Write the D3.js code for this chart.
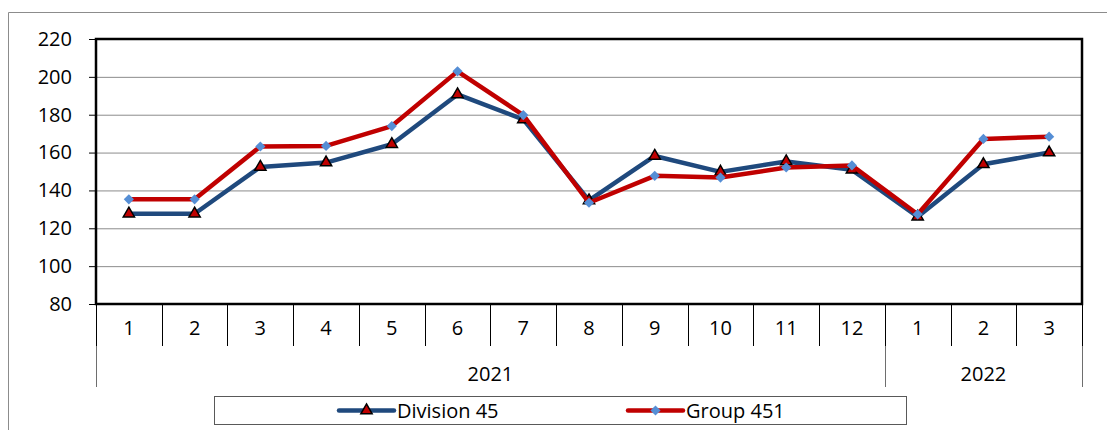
<!DOCTYPE html>
<html>
<head>
<meta charset="utf-8">
<script src="https://cdn.jsdelivr.net/npm/d3@7"></script>
<style>
  body { margin: 0; background: #fff; }
  svg { display: block; font-family: "Open Sans", sans-serif; }
</style>
</head>
<body>
<svg id="chart" width="1107" height="430"></svg>
<script>
// data
const months = ['1', '2', '3', '4', '5', '6', '7', '8', '9', '10', '11', '12', '1', '2', '3'];
const yearLabels = ['2021', '2022'];
const yearSpans = [12, 3];
const yTicks = [80, 100, 120, 140, 160, 180, 200, 220];
const division45 = [127.7, 127.7, 152.4, 154.7, 164.4, 190.7, 177.5, 134.7, 158.2, 149.8, 155.3, 150.9, 126.1, 153.8, 160.0];
const group451 = [135.3, 135.3, 163.2, 163.5, 174.0, 202.9, 179.8, 133.5, 147.7, 146.8, 152.1, 153.2, 127.4, 167.2, 168.4];

const plot = { left: 96, right: 1082, top: 39, bottom: 304 };
const tier1Bottom = 346;
const tier2Bottom = 387;
const blue = '#1F497D';
const red = '#C00000';
const diamondFill = '#558ED5';

const svg = d3.select('#chart');
const idx = months.map((m, i) => i);

const x = d3.scaleBand().domain(idx).range([plot.left, plot.right]).paddingInner(0).paddingOuter(0);
const y = d3.scaleLinear().domain([80, 220]).range([plot.bottom, plot.top]);

// outer frame (runs off the right and bottom edges)
svg.append('path')
    .attr('d', 'M8.5,430 V12.5 H1107')
    .attr('fill', 'none')
    .attr('stroke', '#8c8c8c')
    .attr('stroke-width', 1);

// grid
const gGrid = svg.append('g').attr('transform', 'translate(' + plot.left + ',0)');
gGrid.call(d3.axisLeft(y).tickValues(yTicks.slice(1, -1)).tickSize(-(plot.right - plot.left)).tickFormat(''));
gGrid.select('.domain').remove();
gGrid.selectAll('line').attr('stroke', '#8c8c8c').attr('stroke-width', 1);

// y axis
const gY = svg.append('g').attr('transform', 'translate(' + plot.left + ',0)');
gY.call(d3.axisLeft(y).tickValues(yTicks).tickSize(7).tickPadding(17));
gY.select('.domain').remove();
gY.selectAll('line').attr('stroke', '#000');
gY.selectAll('text').attr('font-size', 20).attr('fill', '#000').attr('font-family', '"Open Sans", sans-serif');

// category axis, first tier
const gX = svg.append('g').attr('transform', 'translate(0,' + plot.bottom + ')');
gX.call(d3.axisBottom(x).tickSize(0).tickPadding(17).tickFormat(i => months[i]));
gX.select('.domain').remove();
gX.selectAll('text').attr('font-size', 20).attr('fill', '#000').attr('font-family', '"Open Sans", sans-serif');

const bounds = idx.map(i => x(i)).concat([plot.right]);
svg.append('g').selectAll('line')
    .data(bounds)
    .join('line')
    .attr('x1', d => Math.round(d) + 0.5)
    .attr('x2', d => Math.round(d) + 0.5)
    .attr('y1', plot.bottom)
    .attr('y2', tier1Bottom)
    .attr('stroke', '#000')
    .attr('stroke-width', 1);

// category axis, second tier (years)
let start = 0;
const yearGroups = yearLabels.map((label, k) => {
    const g = { label: label, from: start, to: start + yearSpans[k] - 1 };
    start += yearSpans[k];
    return g;
});
const yearBounds = [plot.left].concat(yearGroups.map(g => x(g.to) + x.bandwidth()));
svg.append('g').selectAll('line')
    .data(yearBounds)
    .join('line')
    .attr('x1', d => Math.round(d) + 0.5)
    .attr('x2', d => Math.round(d) + 0.5)
    .attr('y1', tier1Bottom)
    .attr('y2', tier2Bottom)
    .attr('stroke', '#6e6e6e')
    .attr('stroke-width', 1);
svg.append('g').selectAll('text')
    .data(yearGroups)
    .join('text')
    .attr('x', g => (x(g.from) + x(g.to) + x.bandwidth()) / 2)
    .attr('y', 374)
    .attr('dy', '0.35em')
    .attr('text-anchor', 'middle')
    .attr('font-size', 20)
    .text(g => g.label);

// plot area border
svg.append('rect')
    .attr('x', plot.left)
    .attr('y', plot.top)
    .attr('width', plot.right - plot.left)
    .attr('height', plot.bottom - plot.top)
    .attr('fill', 'none')
    .attr('stroke', '#000')
    .attr('stroke-width', 2.5);

// series
const cx = i => x(i) + x.bandwidth() / 2;
const line = d3.line().x((d, i) => cx(i)).y(d => y(d));
const triangle = d3.symbol().type(d3.symbolTriangle).size(55);
const diamond = d3.symbol().type(d3.symbolSquare).size(52);

svg.append('path')
    .datum(division45)
    .attr('d', line)
    .attr('fill', 'none')
    .attr('stroke', blue)
    .attr('stroke-width', 4.5)
    .attr('stroke-linejoin', 'round');
svg.append('g').selectAll('path')
    .data(division45)
    .join('path')
    .attr('d', triangle)
    .attr('transform', (d, i) => 'translate(' + cx(i) + ',' + y(d) + ')')
    .attr('fill', red)
    .attr('stroke', '#000')
    .attr('stroke-width', 1.5);

svg.append('path')
    .datum(group451)
    .attr('d', line)
    .attr('fill', 'none')
    .attr('stroke', red)
    .attr('stroke-width', 4.5)
    .attr('stroke-linejoin', 'round');
svg.append('g').selectAll('path')
    .data(group451)
    .join('path')
    .attr('d', diamond)
    .attr('transform', (d, i) => 'translate(' + cx(i) + ',' + y(d) + ') rotate(45)')
    .attr('fill', diamondFill);

// legend
svg.append('rect')
    .attr('x', 214.5)
    .attr('y', 396.5)
    .attr('width', 692)
    .attr('height', 28)
    .attr('fill', '#fff')
    .attr('stroke', '#595959')
    .attr('stroke-width', 1);

const legendItems = [
    { name: 'Division 45', x: 339, color: blue, sym: triangle, fill: red, stroke: '#000', rot: 0 },
    { name: 'Group 451', x: 628, color: red, sym: diamond, fill: diamondFill, stroke: 'none', rot: 45 }
];
const ly = 410.5;
const gLegend = svg.append('g').selectAll('g').data(legendItems).join('g');
gLegend.append('line')
    .attr('x1', d => d.x)
    .attr('x2', d => d.x + 55)
    .attr('y1', ly)
    .attr('y2', ly)
    .attr('stroke', d => d.color)
    .attr('stroke-width', 4.5)
    .attr('stroke-linecap', 'round');
gLegend.append('path')
    .attr('d', d => d.sym())
    .attr('transform', d => 'translate(' + (d.x + 27.5) + ',' + ly + ') rotate(' + d.rot + ')')
    .attr('fill', d => d.fill)
    .attr('stroke', d => d.stroke)
    .attr('stroke-width', 1.5);
gLegend.append('text')
    .attr('x', d => d.x + 58)
    .attr('y', ly)
    .attr('dy', '0.35em')
    .attr('font-size', 20)
    .text(d => d.name);
</script>
</body>
</html>
